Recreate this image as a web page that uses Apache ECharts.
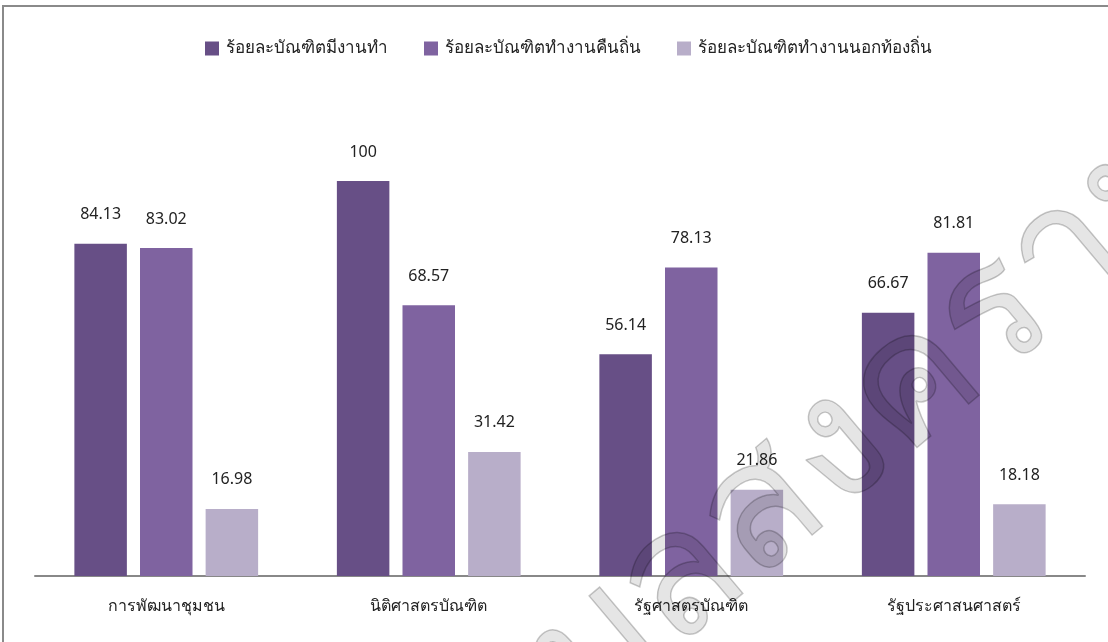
<!DOCTYPE html>
<html><head><meta charset="utf-8">
<script src="https://cdn.jsdelivr.net/npm/echarts@6/dist/echarts.min.js"></script>
<style>html,body{margin:0;padding:0;background:#fff}#c{width:1108px;height:642px}</style>
</head><body><div id="c"></div>
<script>
var categories = ['การพัฒนาชุมชน', 'นิติศาสตรบัณฑิต', 'รัฐศาสตรบัณฑิต', 'รัฐประศาสนศาสตร์'];
var seriesNames = ['ร้อยละบัณฑิตมีงานทำ', 'ร้อยละบัณฑิตทำงานคืนถิ่น', 'ร้อยละบัณฑิตทำงานนอกท้องถิ่น'];
var employed = [84.13, 100, 56.14, 66.67];
var returnHome = [83.02, 68.57, 78.13, 81.81];
var outside = [16.98, 31.42, 21.86, 18.18];
var colors = ['#674f86', '#7f63a0', '#b8aec9'];
var FONT = '"Noto Sans", "DejaVu Sans", sans-serif';

var chart = echarts.init(document.getElementById('c'));
function mk(name, data, color) {
  return {
    name: name, type: 'bar', data: data, barGap: '25%', barCategoryGap: '30%',
    itemStyle: { color: color },
    label: { show: true, position: 'top', distance: 21, color: '#222', fontSize: 16, fontFamily: FONT },
    emphasis: { disabled: true }, z: 2
  };
}
chart.setOption({
  animation: false,
  textStyle: { fontFamily: FONT },
  legend: {
    top: 35, left: 200, itemWidth: 14, itemHeight: 14, itemGap: 36,
    icon: 'rect',
    textStyle: { fontSize: 17, color: '#222', fontFamily: FONT, padding: [0, 0, 0, 2] },
    data: seriesNames
  },
  grid: { left: 35, right: 23, top: 181, bottom: 66 },
  xAxis: {
    type: 'category', data: categories,
    axisLine: { lineStyle: { color: '#888', width: 2 } },
    axisTick: { show: false },
    axisLabel: { fontSize: 16, color: '#222', margin: 22, fontFamily: FONT }
  },
  yAxis: { type: 'value', min: 0, max: 100, show: false, splitLine: { show: false } },
  graphic: [
    { type: 'polyline', shape: { points: [[3, 650], [3, 6], [1120, 6]] }, style: { stroke: '#8a8a8a', lineWidth: 2, fill: null }, z: 0 },
    { type: 'text', x: 830, y: 455, rotation: 0.70, z: 10,
      style: { text: 'พิบูลสงคราม', font: '175px ' + FONT, fill: 'rgba(0,0,0,0.10)', stroke: 'rgba(0,0,0,0.22)', lineWidth: 1.5, align: 'center', verticalAlign: 'middle' } }
  ],
  series: [mk(seriesNames[0], employed, colors[0]), mk(seriesNames[1], returnHome, colors[1]), mk(seriesNames[2], outside, colors[2])]
});
</script></body></html>
